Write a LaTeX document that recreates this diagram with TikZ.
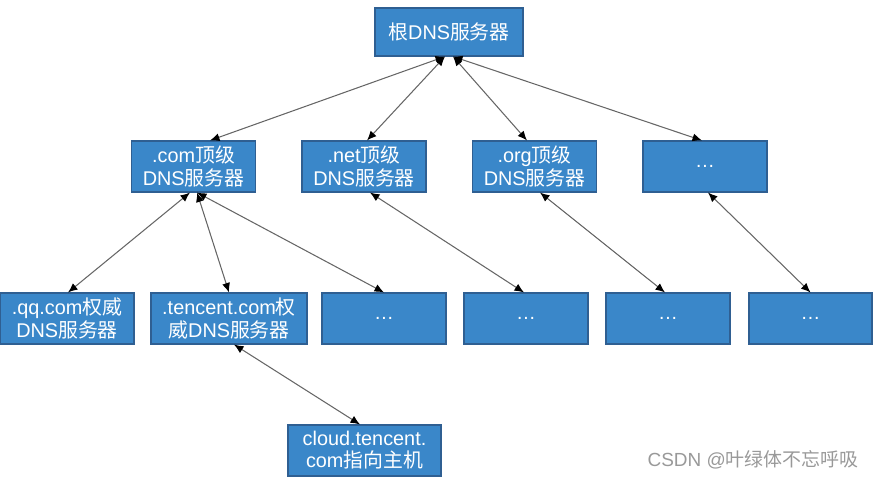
\documentclass[tikz,border=0pt]{standalone}
\usepackage{fontspec}
\setmainfont{Liberation Sans}
\newfontfamily\cjk{Noto Sans CJK SC}
\usepackage{xcolor}
\usepackage{tikz}
\usetikzlibrary{arrows.meta,positioning,calc}
\definecolor{dnsblue}{HTML}{3A87C9}
\definecolor{dnsedge}{HTML}{2F5F92}
\newcommand{\zh}[1]{{\cjk #1}}

\begin{document}
\begin{tikzpicture}[
  server/.style={draw=dnsedge, fill=dnsblue, line width=0.6pt, text=white,
    minimum width=2.48cm, minimum height=1.02cm, inner sep=1pt, align=center,
    font=\fontsize{11.3}{12.6}\selectfont},
  arr/.style={{Latex[black,length=1.9mm,width=1.6mm]}-{Latex[black,length=1.9mm,width=1.6mm]},
    draw=black!60, line width=0.6pt},
  credittext/.style={text=black!40, font=\fontsize{10.8}{13}\selectfont, anchor=east}
]
  \useasboundingbox (0,0) rectangle (17.48,-9.56);

  % root
  \node[server, minimum width=2.96cm, minimum height=0.96cm] (root) at (8.98,-0.64) {\zh{根}DNS\zh{服务器}};

  % top level
  \node[server] (com)   at (3.87,-3.33)  {.com\zh{顶级}\\DNS\zh{服务器}};
  \node[server] (net)   at (7.28,-3.33)  {.net\zh{顶级}\\DNS\zh{服务器}};
  \node[server] (org)   at (10.69,-3.33) {.org\zh{顶级}\\DNS\zh{服务器}};
  \node[server] (tlddots) at (14.10,-3.33) {\dots};

  % authoritative
  \node[server, minimum width=2.68cm] (qq)      at (1.34,-6.37)  {.qq.com\zh{权威}\\DNS\zh{服务器}};
  \node[server, minimum width=3.12cm] (tencent) at (4.58,-6.37)  {.tencent.com\zh{权}\\\zh{威}DNS\zh{服务器}};
  \node[server] (authA) at (7.68,-6.37)  {\dots};
  \node[server] (authB) at (10.52,-6.37) {\dots};
  \node[server] (authC) at (13.36,-6.37) {\dots};
  \node[server, minimum width=2.46cm] (authD) at (16.21,-6.37) {\dots};

  % host
  \node[server, minimum width=3.06cm] (cloud) at (7.29,-9.01) {cloud.tencent.\\com\zh{指向主机}};

  \draw[arr] ([xshift=-0.08cm]root.south) -- ([xshift=0.33cm]com.north);
  \draw[arr] ([xshift=-0.08cm]root.south) -- ([xshift=0.06cm]net.north);
  \draw[arr] ([xshift=0.08cm]root.south) -- ([xshift=-0.15cm]org.north);
  \draw[arr] ([xshift=0.08cm]root.south) -- ([xshift=-0.06cm]tlddots.north);

  \draw[arr] ([xshift=-0.07cm]com.south) -- ([xshift=0.02cm]qq.north);
  \draw[arr] ([xshift=0.07cm]com.south) -- (tencent.north);
  \draw[arr] ([xshift=0.07cm]com.south) -- (authA.north);
  \draw[arr] ([xshift=0.12cm]net.south) -- ([xshift=-0.04cm]authB.north);
  \draw[arr] ([xshift=0.11cm]org.south) -- ([xshift=-0.06cm]authC.north);
  \draw[arr] ([xshift=0.06cm]tlddots.south) -- (authD.north);

  \draw[arr] ([xshift=0.1cm]tencent.south) -- ([xshift=-0.09cm]cloud.north);

  \node[credittext] (credit) at (17.30,-9.2) {CSDN @\zh{叶绿体不忘呼吸}};
\end{tikzpicture}
\end{document}
